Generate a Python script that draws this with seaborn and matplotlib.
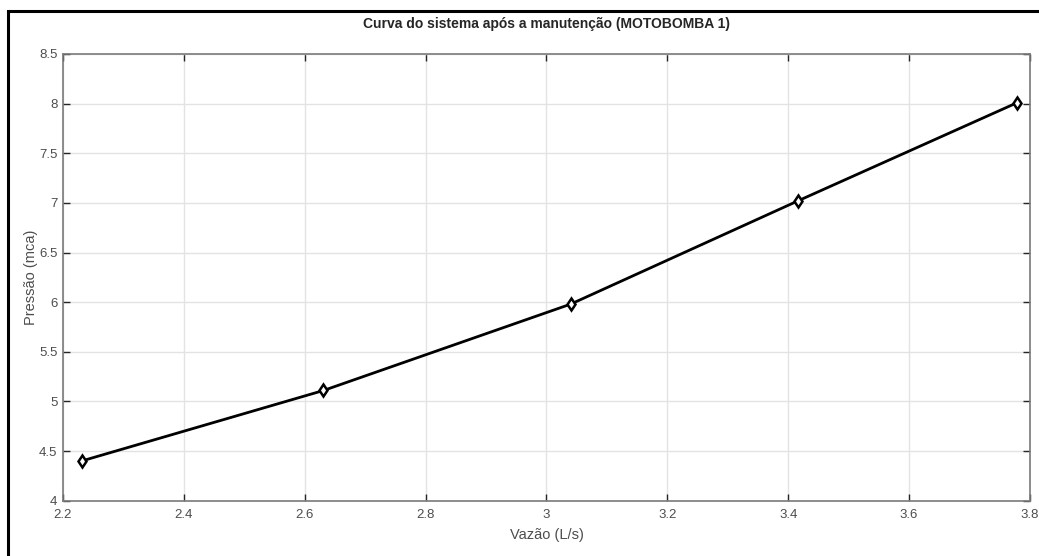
import numpy as np
import pandas as pd
import matplotlib.pyplot as plt
import seaborn as sns
from matplotlib.patches import Rectangle

# Dados
vazao = [2.231, 2.631, 3.040, 3.416, 3.779]
pressao = [4.40, 5.11, 5.98, 7.02, 8.01]

sns.set_style("white")
plt.rcParams['font.family'] = ['Liberation Sans', 'DejaVu Sans']

fig = plt.figure(figsize=(10.39, 5.56), dpi=100)
ax = fig.add_axes([0.0606, 0.0995, 0.9307, 0.8034])

sns.lineplot(x=vazao, y=pressao, ax=ax, color='black', linewidth=2,
             marker='d', markersize=6, markerfacecolor='white',
             markeredgecolor='black', markeredgewidth=1.8)

ax.set_xlim(2.2, 3.8)
ax.set_ylim(4, 8.5)
ax.set_xticks(np.arange(2.2, 3.81, 0.2))
ax.set_xticklabels(['2.2', '2.4', '2.6', '2.8', '3', '3.2', '3.4', '3.6', '3.8'])
ax.set_yticks(np.arange(4, 8.51, 0.5))
ax.set_yticklabels(['4', '4.5', '5', '5.5', '6', '6.5', '7', '7.5', '8', '8.5'])

ax.grid(True, color='#e3e3e3', linewidth=1)
ax.tick_params(direction='in', length=5, width=1, colors='#262626',
               labelcolor='#4d4d4d', labelsize=9.5, top=True, right=True,
               bottom=True, left=True)
ax.tick_params(axis='x', pad=6)
ax.tick_params(axis='y', pad=4)
for s in ax.spines.values():
    s.set_color('#7a7a7a')
    s.set_linewidth(1.2)

ax.set_xlabel('Vazão (L/s)', fontsize=10.5, color='#4d4d4d', labelpad=5)
ax.set_ylabel('Pressão (mca)', fontsize=10.5, color='#4d4d4d', labelpad=1)
ax.set_title('Curva do sistema após a manutenção (MOTOBOMBA 1)',
             fontsize=10, fontweight='bold', pad=19)

# moldura preta da imagem original
fig.patches.append(Rectangle((8 / 1039, -0.1), 1.2, 1 - 11 / 556 + 0.1,
                             transform=fig.transFigure, fill=False,
                             edgecolor='black', linewidth=2.2))

fig.savefig('out.png', dpi=100)
